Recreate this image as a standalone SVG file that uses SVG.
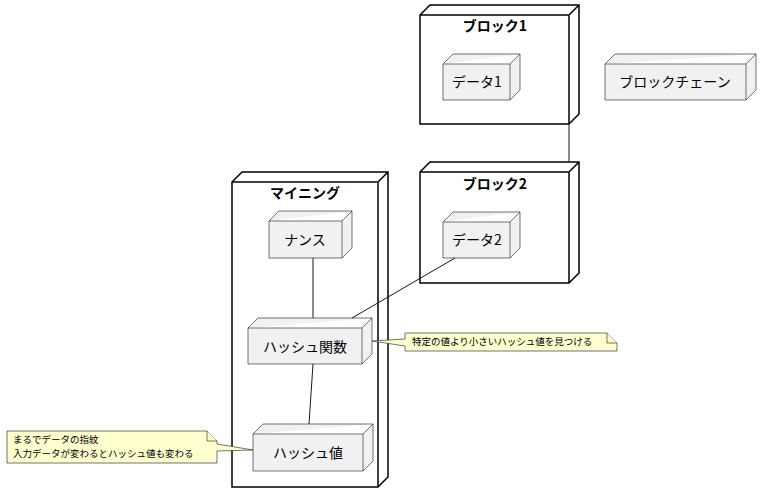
<svg xmlns="http://www.w3.org/2000/svg" width="773" height="503" viewBox="0 0 773 503">
<style>
.c{fill:#fff;stroke:#000;stroke-width:1.5}
.n{fill:#f1f1f1;stroke:#181818;stroke-width:0.6}
.t{font-family:"Noto Sans CJK JP","DejaVu Sans",sans-serif;font-size:14px;text-anchor:middle}
.b{font-weight:bold}
.note{fill:#fefece;stroke:#181818;stroke-width:0.6}
.s{font-family:"Noto Sans CJK JP","DejaVu Sans",sans-serif;font-size:9.5px}
.l{stroke:#181818;stroke-width:1;fill:none}
</style>
<g id="block1"><path class="c" d="M420,15 L430,5 L579,5 L579,114 L569,124 L420,124 Z M420,15 L569,15 L579,5 M569,15 L569,124"/><text class="t b" x="495" y="31">ブロック1</text></g>
<g id="data1"><path class="n" d="M443,64 L453,54 L520,54 L520,90 L510,100 L443,100 Z M443,64 L510,64 L520,54 M510,64 L510,100"/><text class="t" x="477" y="87">データ1</text></g>
<g id="chain"><path class="n" d="M605,64 L615,54 L756,54 L756,90 L746,100 L605,100 Z M605,64 L746,64 L756,54 M746,64 L746,100"/><text class="t" x="675" y="87">ブロックチェーン</text></g>
<g id="block2"><path class="c" d="M420,172 L430,162 L579,162 L579,273 L569,283 L420,283 Z M420,172 L569,172 L579,162 M569,172 L569,283"/><text class="t b" x="495" y="189">ブロック2</text></g>
<g id="data2"><path class="n" d="M443,222 L453,212 L520,212 L520,248 L510,258 L443,258 Z M443,222 L510,222 L520,212 M510,222 L510,258"/><text class="t" x="477" y="245">データ2</text></g>
<g id="mining"><path class="c" d="M232,182 L242,172 L388,172 L388,477 L378,487 L232,487 Z M232,182 L378,182 L388,172 M378,182 L378,487"/><text class="t b" x="305" y="198">マイニング</text></g>
<g id="nonce"><path class="n" d="M269,221 L279,211 L352,211 L352,248 L342,258 L269,258 Z M269,221 L342,221 L352,211 M342,221 L342,258"/><text class="t" x="305" y="245">ナンス</text></g>
<g id="hashfn"><path class="n" d="M248,328 L258,318 L372,318 L372,354 L362,364 L248,364 Z M248,328 L362,328 L372,318 M362,328 L362,364"/><text class="t" x="305" y="352">ハッシュ関数</text></g>
<g id="hashval"><path class="n" d="M253,434 L263,424 L373,424 L373,461 L363,471 L253,471 Z M253,434 L363,434 L373,424 M363,434 L363,471"/><text class="t" x="308" y="458">ハッシュ値</text></g>
<g id="connectors">
<line class="l" x1="569" y1="124" x2="569" y2="162"/>
<line class="l" x1="313" y1="258" x2="313" y2="318"/>
<line class="l" x1="455" y1="258" x2="352" y2="318"/>
<line class="l" x1="313" y1="364" x2="309" y2="424"/>
</g>
<g id="note1"><path class="note" d="M405,333 L607,333 L617,343 L617,351 L405,351 L405,346 L372,341 L405,339 Z"/><path class="note" d="M607,333 L607,343 L617,343"/><text class="s" x="412" y="345">特定の値より小さいハッシュ値を見つける</text></g>
<g id="note2"><path class="note" d="M7,431 L207,431 L217,441 L217,444 L253,450 L217,451 L217,463 L7,463 Z"/><path class="note" d="M207,431 L207,441 L217,441"/><text class="s" x="13" y="443">まるでデータの指紋</text><text class="s" x="13" y="457">入力データが変わるとハッシュ値も変わる</text></g>
</svg>
